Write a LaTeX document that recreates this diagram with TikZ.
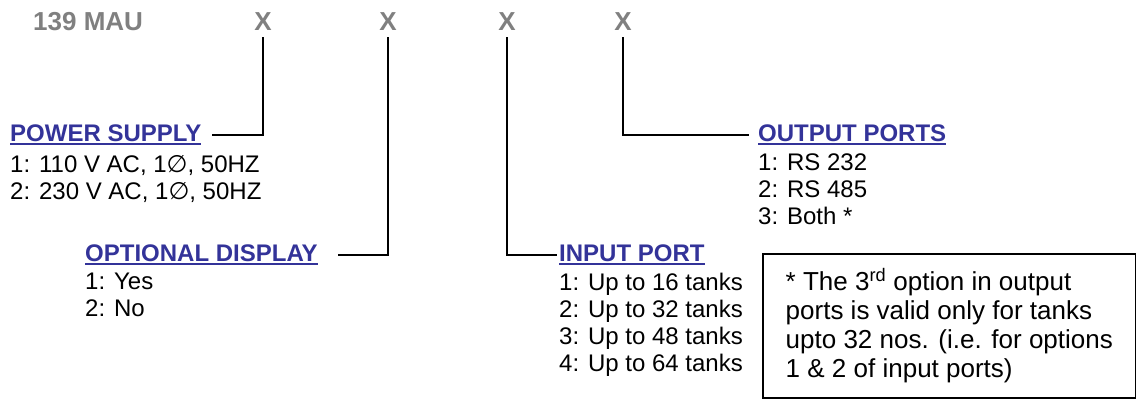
\documentclass[tikz,border=0pt]{standalone}
\usepackage{fontspec}
\setmainfont{Liberation Sans}
\newfontfamily\phasefont{DejaVu Sans}
\usetikzlibrary{positioning}
\definecolor{MAUGray}{HTML}{808080}
\definecolor{MAUBlue}{HTML}{333399}
\newcommand{\ulhead}[1]{\setbox0\hbox{#1}\rlap{\copy0}\rule[-4pt]{\wd0}{1.8pt}}
\newcommand{\phase}{{\phasefont ∅}}

\begin{document}
\begin{tikzpicture}[
    x=1pt,y=-1pt,
    code/.style={font=\fontsize{26}{29}\selectfont\bfseries,text=MAUGray,inner sep=0pt,anchor=base},
    head/.style={font=\fontsize{24}{27}\selectfont\bfseries,text=MAUBlue,inner sep=0pt,anchor=base west},
    opts/.style={font=\fontsize{24}{27}\selectfont,align=left,inner sep=0pt,anchor=north west},
    note/.style={draw,line width=1.6pt,font=\fontsize{26}{29}\selectfont,align=left,
      minimum width=373pt,minimum height=144pt,inner sep=0pt,anchor=north west},
    link/.style={line width=1.8pt,shorten <=7pt}
  ]
    \useasboundingbox (0,0) rectangle (1136,399);

    \node[code,anchor=base west] (model) at (33,30) {139 MAU};
    \node[code] (xpow) at (263,30) {X};
    \node[code] (xdisp) at (388,30) {X};
    \node[code] (xin) at (507,30) {X};
    \node[code] (xout) at (623,30) {X};

    \node[head] (pow) at (10,141) {\ulhead{POWER SUPPLY}};
    \node[opts] (powlist) at (10,155.5) {1: 110 V AC, 1\phase, 50HZ\\2: 230 V AC, 1\phase, 50HZ};
    \node[head] (disp) at (85,261) {\ulhead{OPTIONAL DISPLAY}};
    \node[opts] (displist) at (85,272.8) {1: Yes\\2: No};
    \node[head] (inp) at (559,261) {\ulhead{INPUT PORT}};
    \node[opts] (inplist) at (559,272.8) {1: Up to 16 tanks\\2: Up to 32 tanks\\3: Up to 48 tanks\\4: Up to 64 tanks};
    \node[head] (outp) at (758,141) {\ulhead{OUTPUT PORTS}};
    \node[opts] (outplist) at (758,154) {1: RS 232\\2: RS 485\\3: Both *};

    \node[note] (note) at (762,253) {* The 3\textsuperscript{rd} option in output\\ports is valid only for tanks\\upto 32 nos. (i.e. for options\\1 \& 2 of input ports)};

    \draw[link,shorten >=10pt] (xpow.south) |- (pow.east);
    \draw[link,shorten >=20pt] (xdisp.south) |- (disp.east);
    \draw[link,shorten >=2pt] (xin.south) |- (inp.west);
    \draw[link,shorten >=9pt] (xout.south) |- (outp.west);
  \end{tikzpicture}
\end{document}
